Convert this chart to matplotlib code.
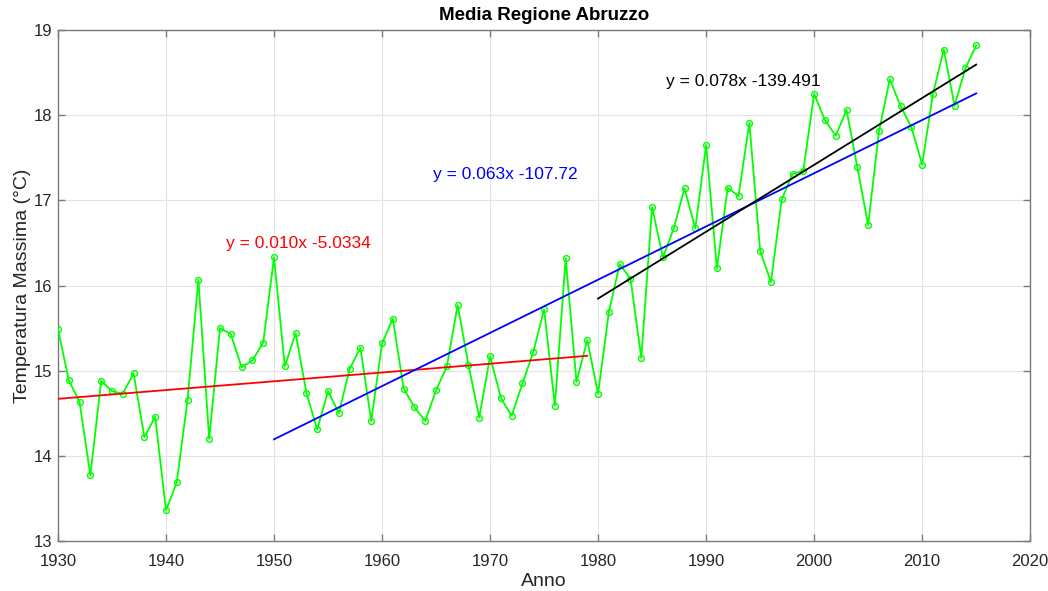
import numpy as np
import matplotlib
matplotlib.use('Agg')
import matplotlib.pyplot as plt

# media annuale temperatura massima, Abruzzo
anni = np.arange(1930, 2016)
tmax = [15.49, 14.89, 14.63, 13.77, 14.88, 14.76, 14.73, 14.97, 14.22, 14.46,
        13.36, 13.69, 14.66, 16.07, 14.20, 15.50, 15.43, 15.04, 15.12, 15.33,
        16.33, 15.05, 15.44, 14.74, 14.31, 14.76, 14.50, 15.02, 15.27, 14.41,
        15.32, 15.61, 14.79, 14.57, 14.41, 14.77, 15.05, 15.77, 15.07, 14.45,
        15.17, 14.68, 14.47, 14.85, 15.22, 15.72, 14.59, 16.32, 14.87, 15.36,
        14.73, 15.69, 16.25, 16.08, 15.15, 16.92, 16.33, 16.67, 17.14, 16.67,
        17.65, 16.20, 17.15, 17.05, 17.91, 16.41, 16.04, 17.01, 17.31, 17.35,
        18.25, 17.94, 17.76, 18.06, 17.39, 16.71, 17.81, 18.42, 18.11, 17.86,
        17.42, 18.25, 18.77, 18.11, 18.55, 18.82]
tmax = np.array(tmax)

# periodi delle rette di regressione
periodi = [(1930, 1979), (1950, 2015), (1980, 2015)]
colori = ['#ff0000', '#0000ff', '#000000']
etichette = ['y = 0.010x -5.0334', 'y = 0.063x -107.72', 'y = 0.078x -139.491']
pos_etichette = [(1945.6, 16.49), (1964.7, 17.30), (1986.3, 18.40)]

plt.rcParams['font.family'] = ['Liberation Sans', 'DejaVu Sans']

fig = plt.figure(figsize=(10.48, 5.91), dpi=100)
ax = fig.add_axes([0.0553, 0.0846, 0.9277, 0.8646])

ax.plot(anni, tmax, color='#00ff00', lw=1.3, marker='o', ms=4.2,
        mfc='none', mec='#00ff00', mew=1.0, zorder=3)

for (a, b), c in zip(periodi, colori):
    m = (anni >= a) & (anni <= b)
    p = np.polyfit(anni[m], tmax[m], 1)
    xx = np.array([a, b])
    ax.plot(xx, np.polyval(p, xx), color=c, lw=1.3, zorder=4)

for t, (x, y), c in zip(etichette, pos_etichette, colori):
    ax.text(x, y, t, color=c, fontsize=12.5, va='center', ha='left')

ax.set_xlim(1930, 2020)
ax.set_ylim(13, 19)
ax.set_xticks(np.arange(1930, 2021, 10))
ax.set_yticks(np.arange(13, 20, 1))
ax.grid(True, color='#e3e3e3', lw=0.8)
ax.set_axisbelow(True)
for s in ax.spines.values():
    s.set_color('#7a7a7a')
    s.set_linewidth(1.0)
ax.tick_params(direction='in', length=5, width=1, color='#7a7a7a',
               top=True, right=True, labelsize=12, labelcolor='#262626')
ax.tick_params(axis='x', pad=9)
ax.tick_params(axis='y', pad=4)

ax.set_xlabel('Anno', fontsize=14, color='#262626', labelpad=3)
ax.set_ylabel('Temperatura Massima (°C)', fontsize=14, color='#262626', labelpad=2)
ax.set_title('Media Regione Abruzzo', fontsize=13.5, fontweight='bold', pad=7)

fig.savefig('out.png', dpi=100)
